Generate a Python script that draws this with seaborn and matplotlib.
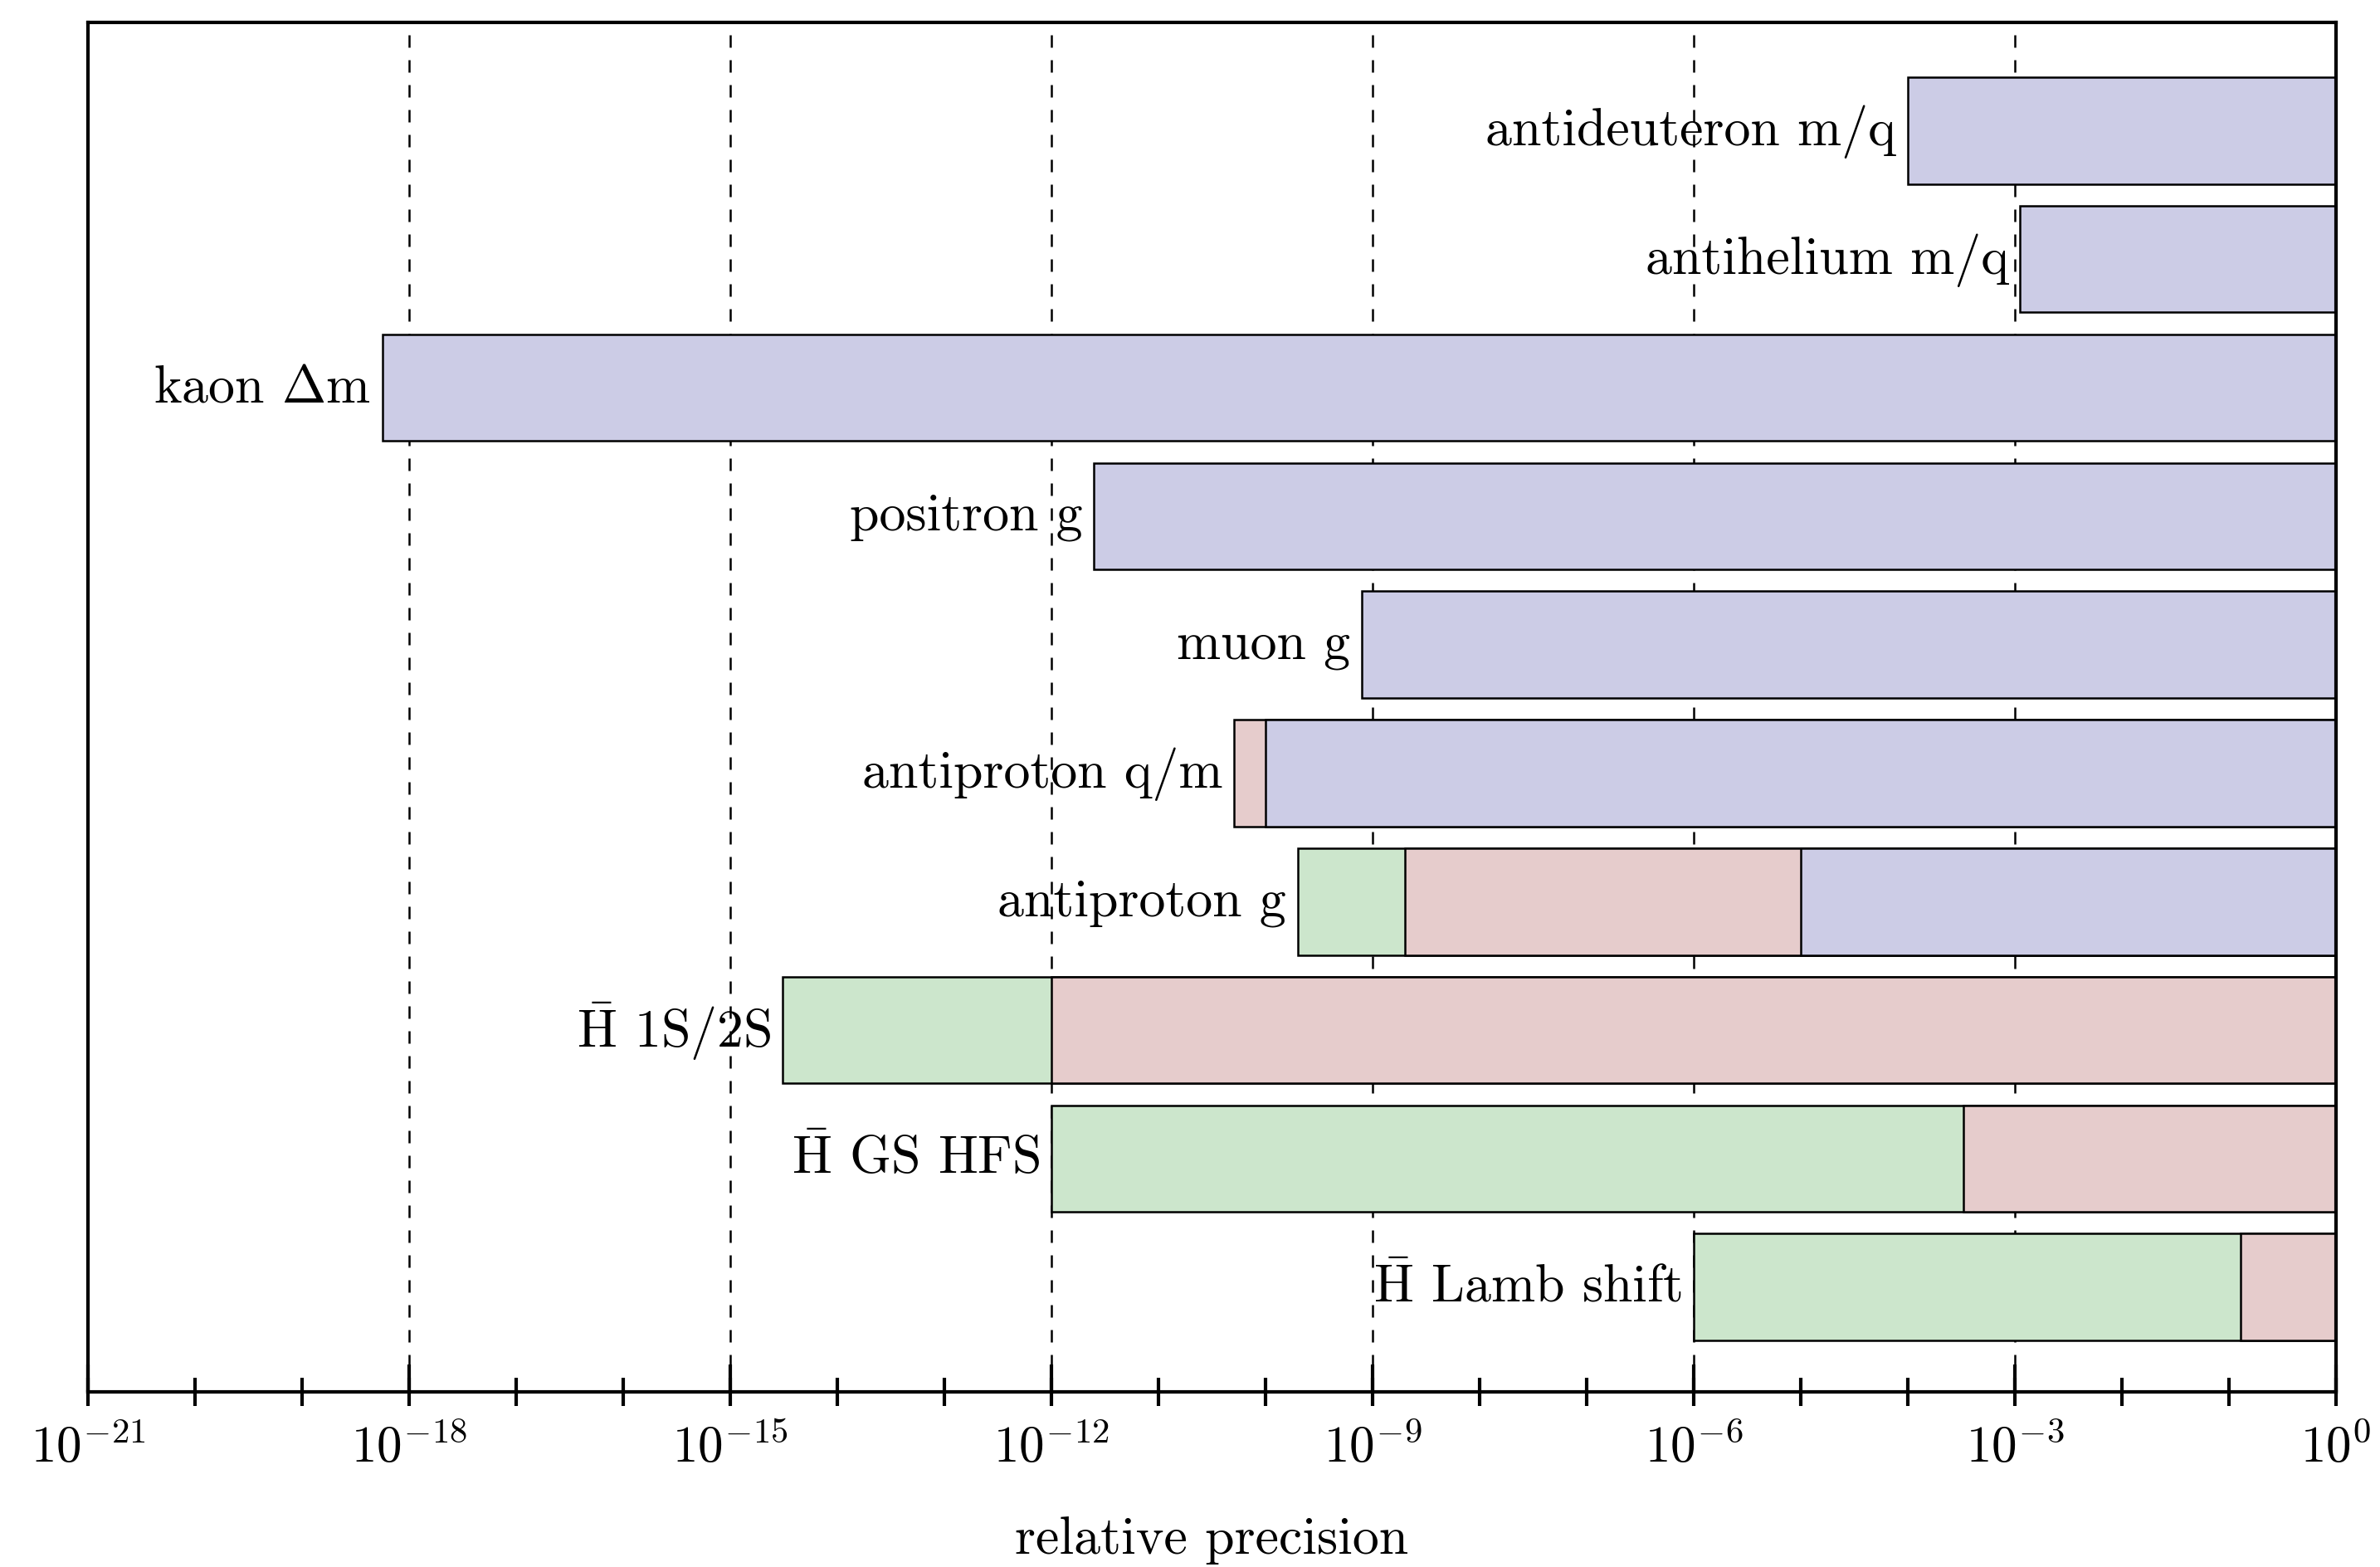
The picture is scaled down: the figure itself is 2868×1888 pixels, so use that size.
import numpy as np
import pandas as pd
import matplotlib
matplotlib.use("Agg")
import matplotlib.pyplot as plt
from matplotlib.ticker import FixedLocator, NullFormatter
import seaborn as sns

# Measurements, top to bottom
categories = [
    "antideuteron m/q",
    "antihelium m/q",
    r"kaon $\Delta$m",
    "positron g",
    "muon g",
    "antiproton q/m",
    "antiproton g",
    r"$\bar{\mathrm{H}}$ 1S/2S",
    r"$\bar{\mathrm{H}}$ GS HFS",
    r"$\bar{\mathrm{H}}$ Lamb shift",
]

# Relative precision reached in each stage (bar runs from value to 1)
blue_cats = ["antideuteron m/q", "antihelium m/q", r"kaon $\Delta$m", "positron g",
             "muon g", "antiproton q/m", "antiproton g"]
blue_vals = [1.0e-4, 1.12e-3, 5.6e-19, 2.5e-12, 7.9e-10, 1.0e-10, 1.0e-5]

pink_cats = ["antiproton q/m", "antiproton g", r"$\bar{\mathrm{H}}$ 1S/2S",
             r"$\bar{\mathrm{H}}$ GS HFS", r"$\bar{\mathrm{H}}$ Lamb shift"]
pink_vals = [5.1e-11, 2.0e-9, 1.0e-12, 3.3e-4, 0.128]

green_cats = ["antiproton g", r"$\bar{\mathrm{H}}$ 1S/2S",
              r"$\bar{\mathrm{H}}$ GS HFS", r"$\bar{\mathrm{H}}$ Lamb shift"]
green_vals = [2.0e-10, 3.1e-15, 1.0e-12, 1.0e-6]

major_exponents = [-21, -18, -15, -12, -9, -6, -3, 0]
minor_exponents = list(range(-21, 1))
tick_labels = [rf"$10^{{{e}}}$" for e in major_exponents]

BLUE = "#CCCCE6"
PINK = "#E6CCCC"
GREEN = "#CCE6CC"

sns.set_style("ticks")
plt.rcParams["font.family"] = ["cmr10"]
plt.rcParams["mathtext.fontset"] = "cm"
plt.rcParams["axes.unicode_minus"] = False
plt.rcParams["axes.formatter.use_mathtext"] = True
plt.rcParams["text.color"] = "black"
plt.rcParams["axes.labelcolor"] = "black"
plt.rcParams["xtick.color"] = "black"
plt.rcParams["axes.edgecolor"] = "black"

fig = plt.figure(figsize=(14.34, 9.44), dpi=200)
ax = fig.add_axes([0.037, 0.1118, 0.9445, 0.8737])

# dashed guides every three decades, behind the bars
for e in major_exponents[1:-1]:
    ax.axvline(e, color="black", lw=0.9, ls=(0, (6, 6)), zorder=0)

layers = [(green_cats, green_vals, GREEN),
          (pink_cats, pink_vals, PINK),
          (blue_cats, blue_vals, BLUE)]
for cats, vals, col in layers:
    df = pd.DataFrame({"exp": np.log10(vals), "name": cats})
    sns.barplot(data=df, x="exp", y="name", order=categories, orient="h",
                width=0.83, color=col, saturation=1, edgecolor="black",
                linewidth=0.9, ax=ax, zorder=2)

# row labels just left of the most precise stage of each row
leftmost = {}
for cats, vals, _ in layers:
    for c, v in zip(cats, vals):
        leftmost[c] = min(leftmost.get(c, 1.0), v)
for i, c in enumerate(categories):
    ax.annotate(c, xy=(np.log10(leftmost[c]), i), xytext=(-5, -0.5),
                textcoords="offset points", ha="right", va="center",
                fontsize=23, color="black")

ax.set_xlim(-21, 0)
ax.set_ylim(9.815, -0.839)
ax.set_yticks([])
ax.set_ylabel("")

ax.xaxis.set_major_locator(FixedLocator(major_exponents))
ax.xaxis.set_minor_locator(FixedLocator(minor_exponents))
ax.xaxis.remove_overlapping_locs = False
ax.set_xticklabels(tick_labels)
ax.xaxis.set_minor_formatter(NullFormatter())
ax.tick_params(axis="x", which="major", direction="in", length=12, width=1.5,
               labelsize=22, pad=14, colors="black")
ax.tick_params(axis="x", which="minor", direction="inout", length=12, width=1.5,
               colors="black")
ax.set_xlabel("relative precision", fontsize=23, labelpad=19)

for s in ax.spines.values():
    s.set_visible(True)
    s.set_linewidth(1.5)
    s.set_color("black")

fig.savefig("out.png", dpi=200)
